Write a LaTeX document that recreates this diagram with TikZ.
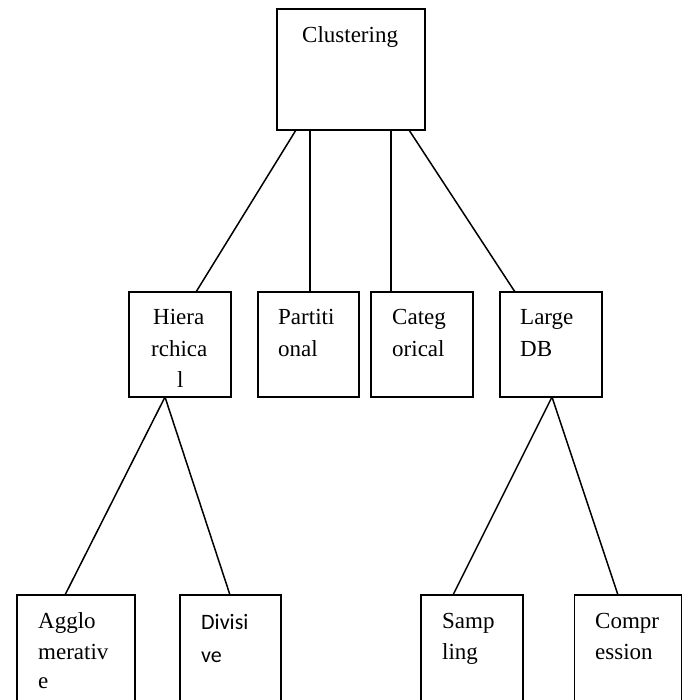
\documentclass[tikz,border=0pt]{standalone}
\usepackage{fontspec}
\setmainfont{Liberation Serif}
\newfontfamily\calib{Carlito}
\begin{document}
\begin{tikzpicture}[x=1pt,y=-1pt,
  box/.style={draw,line width=1.5pt,inner sep=0pt},
  edge/.style={line width=1.5pt},
  txt/.style={anchor=base west,inner sep=0pt,font=\fontsize{23}{32}\selectfont},
  line cap=butt]
\useasboundingbox (0,0) rectangle (687,700);
\clip (0,0) rectangle (687,700);

% boxes: top level
\node[box,minimum width=148pt,minimum height=121pt] (clus) at (351,69.5) {};
% second level
\node[box,minimum width=102pt,minimum height=105pt] (hier) at (180,344.5) {};
\node[box,minimum width=101pt,minimum height=105pt] (part) at (308.5,344.5) {};
\node[box,minimum width=102pt,minimum height=105pt] (cate) at (422,344.5) {};
\node[box,minimum width=102pt,minimum height=105pt] (ldb)  at (551,344.5) {};
% third level (running past the lower edge)
\node[box,minimum width=118pt,minimum height=130pt] (aggl) at (76,660) {};
\node[box,minimum width=101pt,minimum height=130pt] (divi) at (230.5,660) {};
\node[box,minimum width=102pt,minimum height=130pt] (samp) at (472,660) {};
\node[box,minimum width=107pt,minimum height=130pt] (comp) at (628,660) {};

% connector end points
\coordinate (c1) at (296,130);
\coordinate (c2) at (310,130);
\coordinate (c3) at (391,130);
\coordinate (c4) at (409,130);
\coordinate (h0) at (165,397);
\coordinate (l0) at (552,397);

\draw[edge] (c1) -- (196,292);
\draw[edge] (c2) -- (310,292);
\draw[edge] (c3) -- (391,292);
\draw[edge] (c4) -- (515,292);
\draw[edge] (h0) -- (65,595);
\draw[edge] (h0) -- (230,595);
\draw[edge] (l0) -- (453,595);
\draw[edge] (l0) -- (618,595);

% labels
\node[txt] (tclus) at (302,43) {Clustering};
\node[txt] (thier1) at (153,324) {Hiera};
\node[txt] (thier2) at (151,356) {rchica};
\node[txt] (thier3) at (177,387) {l};
\node[txt] (tpart1) at (278,324) {Partiti};
\node[txt] (tpart2) at (278,356) {onal};
\node[txt] (tcate1) at (392,324) {Categ};
\node[txt] (tcate2) at (392,356) {orical};
\node[txt] (tldb1) at (520,324) {Large};
\node[txt] (tldb2) at (520,356) {DB};
\node[txt] (tagg1) at (38,628) {Agglo};
\node[txt] (tagg2) at (38,659) {merativ};
\node[txt] (tagg3) at (38,688) {e};
\node[txt,font=\calib\fontsize{22}{32}\selectfont] (tdiv1) at (201,629) {Divisi};
\node[txt,font=\calib\fontsize{22}{32}\selectfont] (tdiv2) at (201,662) {ve};
\node[txt] (tsam1) at (442,628) {Samp};
\node[txt] (tsam2) at (442,659) {ling};
\node[txt] (tcom1) at (595,628) {Compr};
\node[txt] (tcom2) at (595,659) {ession};
\end{tikzpicture}
\end{document}
